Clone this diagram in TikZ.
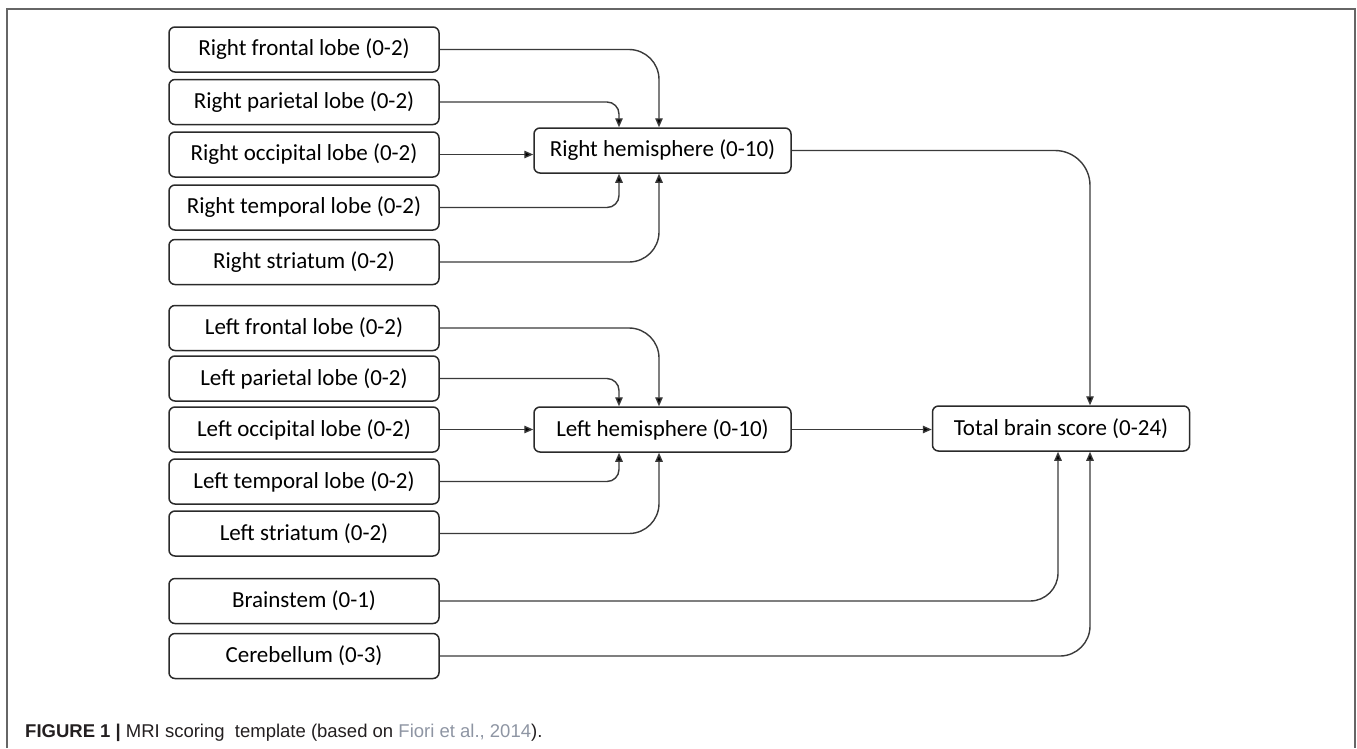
\documentclass[tikz,border=0pt]{standalone}
\usepackage{fontspec}
\setmainfont{Carlito}
\newfontfamily\capfont{Liberation Sans}
\usetikzlibrary{arrows.meta,calc}
\definecolor{boxline}{HTML}{2A2A2A}
\definecolor{connc}{HTML}{3A3A3A}
\definecolor{framec}{HTML}{666666}
\definecolor{linkc}{HTML}{8E95A3}
\definecolor{capc}{HTML}{231F20}
\begin{document}
\begin{tikzpicture}[x=1pt,y=-1pt,
 box/.style={draw=boxline, line width=1.5pt, rounded corners=6pt, minimum width=270pt, minimum height=45pt, inner sep=0pt, font=\fontsize{23}{28}\selectfont, anchor=center, text=black},
 hbox/.style={box, minimum width=257pt},
 conn/.style={draw=connc, line width=1.4pt, -{Triangle[length=9pt,width=7.5pt,fill=black]}},
]
\useasboundingbox (0,0) rectangle (1357,748);
\draw[framec, line width=1.5pt] (7,748) -- (7,9) -- (1355,9) -- (1355,748);

\node[box] (rf) at (304,49.5) {Right frontal lobe (0-2)};
\node[box] (rp) at (304,102) {Right parietal lobe (0-2)};
\node[box] (ro) at (304,154.5) {Right occipital lobe (0-2)};
\node[box] (rt) at (304,207.5) {Right temporal lobe (0-2)};
\node[box] (rs) at (304,262) {Right striatum (0-2)};

\node[box] (lf) at (304,328) {Left frontal lobe (0-2)};
\node[box] (lp) at (304,378.5) {Left parietal lobe (0-2)};
\node[box] (lo) at (304,429.5) {Left occipital lobe (0-2)};
\node[box] (lt) at (304,481.5) {Left temporal lobe (0-2)};
\node[box] (ls) at (304,533.5) {Left striatum (0-2)};

\node[box] (bs) at (304,601) {Brainstem (0-1)};
\node[box] (cb) at (304,656) {Cerebellum (0-3)};

\node[hbox] (rh) at (662.5,150.5) {Right hemisphere (0-10)};
\node[hbox] (lh) at (662.5,429.5) {Left hemisphere (0-10)};
\node[hbox] (tot) at (1061,428.5) {Total brain score (0-24)};

\draw[conn, rounded corners=30pt] (rf.east) -| ($(rh.north)+(-3.5,0)$);
\draw[conn, rounded corners=12pt] (rp.east) -| ($(rh.north)+(-43.5,0)$);
\draw[conn] (ro.east) -- (ro.east -| rh.west);
\draw[conn, rounded corners=12pt] (rt.east) -| ($(rh.south)+(-43.5,0)$);
\draw[conn, rounded corners=30pt] (rs.east) -| ($(rh.south)+(-3.5,0)$);

\draw[conn, rounded corners=30pt] (lf.east) -| ($(lh.north)+(-3.5,0)$);
\draw[conn, rounded corners=12pt] (lp.east) -| ($(lh.north)+(-43.5,0)$);
\draw[conn] (lo.east) -- (lo.east -| lh.west);
\draw[conn, rounded corners=12pt] (lt.east) -| ($(lh.south)+(-43.5,0)$);
\draw[conn, rounded corners=30pt] (ls.east) -| ($(lh.south)+(-3.5,0)$);

\draw[conn, rounded corners=35pt] (rh.east) -| ($(tot.north)+(29,0)$);
\draw[conn] (lh.east) -- (lh.east -| tot.west);
\draw[conn, rounded corners=28pt] (bs.east) -| ($(tot.south)+(-3,0)$);
\draw[conn, rounded corners=30pt] (cb.east) -| ($(tot.south)+(29,0)$);

\node[anchor=base west, inner sep=0pt, font=\capfont\fontsize{18.5}{22}\selectfont, text=capc] (cap) at (25,737) {\textbf{FIGURE 1 |} MRI scoring\ \ template (based on \textcolor{linkc}{Fiori et al., 2014}).};
\end{tikzpicture}
\end{document}
